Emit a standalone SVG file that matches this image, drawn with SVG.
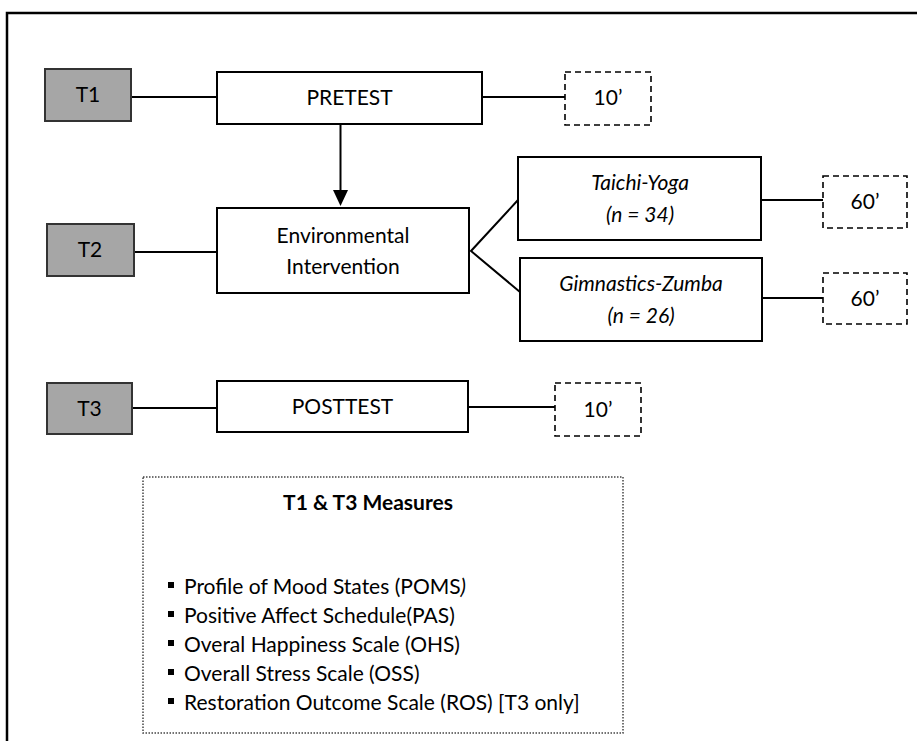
<svg xmlns="http://www.w3.org/2000/svg" width="917" height="741" viewBox="0 0 917 741">
<style>
text{font-family:Lato,"Liberation Sans",sans-serif;font-size:21px;fill:#000;text-anchor:middle}
.box{fill:#fff;stroke:#000;stroke-width:2}
.t{fill:#a6a6a6;stroke:#333;stroke-width:2}
.dash{fill:#fff;stroke:#000;stroke-width:1.6;stroke-dasharray:6 4}
.dot{fill:#fff;stroke:#444;stroke-width:1.5;stroke-dasharray:1.5 1.5}
.ln{fill:none;stroke:#000;stroke-width:2}
.it{font-style:italic}
.l{text-anchor:start}
</style>
<rect x="7" y="13" width="1000" height="1000" fill="#fff" stroke="#000" stroke-width="2.5"/>
<g id="connectors">
<line class="ln" x1="131" y1="97" x2="217" y2="97"/>
<line class="ln" x1="482" y1="97" x2="565" y2="97"/>
<line class="ln" x1="340.5" y1="124" x2="340.5" y2="192"/>
<polygon points="333,190 348,190 340.5,206" fill="#000"/>
<line class="ln" x1="134" y1="252" x2="217" y2="252"/>
<polyline class="ln" points="518,200 471,251 520,292"/>
<line class="ln" x1="761" y1="200" x2="823" y2="200"/>
<line class="ln" x1="762" y1="298" x2="823" y2="298"/>
<line class="ln" x1="132" y1="408" x2="217" y2="408"/>
<line class="ln" x1="468" y1="407" x2="555" y2="407"/>
</g>
<g id="t1"><rect class="t" x="45" y="69" width="86" height="52"/><text x="88" y="102">T1</text></g>
<g id="pretest"><rect class="box" x="217" y="72" width="265" height="52"/><text x="349.5" y="105">PRETEST</text></g>
<g id="d1"><rect class="dash" x="565" y="72" width="86" height="53"/><text x="608" y="105">10’</text></g>
<g id="t2"><rect class="t" x="47" y="224" width="87" height="52"/><text x="90" y="257">T2</text></g>
<g id="env"><rect class="box" x="217" y="208" width="252" height="85"/><text x="343" y="243">Environmental</text><text x="343" y="274">Intervention</text></g>
<g id="taichi"><rect class="box" x="518" y="157" width="243" height="83"/><text class="it" x="640" y="190">Taichi-Yoga</text><text class="it" x="640" y="222">(n = 34)</text></g>
<g id="gim"><rect class="box" x="520" y="258" width="242" height="83"/><text class="it" x="641" y="291">Gimnastics-Zumba</text><text class="it" x="641" y="323">(n = 26)</text></g>
<g id="d2"><rect class="dash" x="823" y="176" width="84" height="52"/><text x="865" y="209">60’</text></g>
<g id="d3"><rect class="dash" x="823" y="273" width="84" height="51"/><text x="865" y="306">60’</text></g>
<g id="t3"><rect class="t" x="47" y="383" width="85" height="51"/><text x="89.5" y="416">T3</text></g>
<g id="posttest"><rect class="box" x="217" y="381" width="251" height="51"/><text x="342.5" y="414">POSTTEST</text></g>
<g id="d4"><rect class="dash" x="555" y="383" width="86" height="53"/><text x="598" y="417">10’</text></g>
<g id="measures">
<rect class="dot" x="143" y="477" width="480" height="256"/>
<text x="368" y="510" font-weight="bold">T1 &amp; T3 Measures</text>
<g fill="#000"><rect x="168" y="582" width="6" height="6"/><rect x="168" y="611" width="6" height="6"/><rect x="168" y="640" width="6" height="6"/><rect x="168" y="669" width="6" height="6"/><rect x="168" y="698" width="6" height="6"/></g>
<text class="l" x="184" y="594">Profile of Mood States (POMS<tspan class="it">)</tspan></text>
<text class="l" x="184" y="623">Positive Affect Schedule(PAS)</text>
<text class="l" x="184" y="652">Overal Happiness Scale (OHS)</text>
<text class="l" x="184" y="681">Overall Stress Scale (OSS)</text>
<text class="l" x="184" y="710">Restoration Outcome Scale (ROS) [T3 only]</text>
</g>
</svg>
